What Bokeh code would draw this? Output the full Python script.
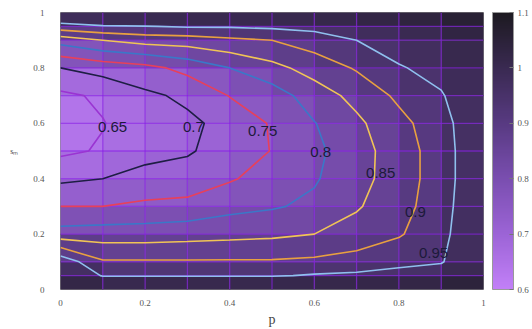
import numpy as np
from bokeh.plotting import figure
from bokeh.models import (LinearColorMapper, ColorBar, FixedTicker, CustomJSTickFormatter,
                          ColumnDataSource, Range1d)
from bokeh.core.properties import value
from bokeh.embed import file_html
from bokeh.resources import INLINE

# ---------------- data ----------------
p_vals = [0.0, 0.1, 0.2, 0.3, 0.4, 0.5, 0.6, 0.7, 0.8, 0.9, 1.0]
s_vals = [0.0, 0.05, 0.1, 0.2, 0.3, 0.4, 0.5, 0.6, 0.7, 0.8, 0.9, 0.95, 1.0]

# one column of values (over s_vals) for each p value
col_p00 = [1.05, 1.03, 0.985, 0.82, 0.75, 0.69, 0.64, 0.625, 0.64, 0.70, 0.82, 0.93, 1.02]
col_p01 = [1.06, 0.945, 0.905, 0.825, 0.75, 0.70, 0.655, 0.648, 0.658, 0.72, 0.85, 0.945, 1.04]
col_p02 = [1.07, 0.945, 0.905, 0.825, 0.76, 0.715, 0.685, 0.675, 0.69, 0.735, 0.87, 0.948, 1.05]
col_p03 = [1.07, 0.945, 0.905, 0.83, 0.765, 0.72, 0.695, 0.69, 0.71, 0.765, 0.875, 0.955, 1.05]
col_p04 = [1.07, 0.945, 0.905, 0.835, 0.785, 0.745, 0.72, 0.715, 0.752, 0.80, 0.89, 0.955, 1.05]
col_p05 = [1.07, 0.945, 0.905, 0.84, 0.795, 0.77, 0.752, 0.755, 0.775, 0.835, 0.90, 0.96, 1.05]
col_p06 = [1.07, 0.955, 0.91, 0.85, 0.81, 0.795, 0.788, 0.798, 0.825, 0.87, 0.925, 0.965, 1.05]
col_p07 = [1.07, 0.96, 0.92, 0.87, 0.845, 0.832, 0.83, 0.84, 0.865, 0.905, 0.95, 0.98, 1.06]
col_p08 = [1.07, 0.97, 0.935, 0.895, 0.88, 0.875, 0.875, 0.885, 0.91, 0.945, 0.98, 1.0, 1.06]
col_p09 = [1.07, 0.985, 0.945, 0.935, 0.93, 0.925, 0.925, 0.93, 0.945, 0.97, 1.0, 1.02, 1.07]
col_p10 = [1.08, 1.04, 1.02, 1.005, 1.0, 1.0, 1.0, 1.0, 1.005, 1.02, 1.04, 1.06, 1.08]

levels = [0.65, 0.7, 0.75, 0.8, 0.85, 0.9, 0.95]
level_labels = ["0.65", "0.7", "0.75", "0.8", "0.85", "0.9", "0.95"]
label_p = [0.123, 0.314, 0.478, 0.615, 0.757, 0.839, 0.882]
label_s = [0.585, 0.585, 0.574, 0.498, 0.419, 0.278, 0.13]

x_ticks = [0, 0.2, 0.4, 0.6, 0.8, 1.0]
y_ticks = [0, 0.2, 0.4, 0.6, 0.8, 1.0]
cb_ticks = [0.6, 0.7, 0.8, 0.9, 1.0, 1.1]
cb_low, cb_high = 0.6, 1.1

# ---------------- styling ----------------
line_colors = ["#9a34d2", "#1e1e44", "#e8405a", "#3a78c8", "#f0c456", "#e8a040", "#8fc0ee"]
anchors = [(0.0, (194, 128, 248)), (0.2, (156, 100, 214)), (0.4, (122, 78, 176)),
           (0.6, (88, 58, 130)), (0.8, (58, 42, 82)), (1.0, (29, 26, 33))]

def make_palette(n=256):
    out = []
    for i in range(n):
        t = i / (n - 1)
        for k in range(len(anchors) - 1):
            t0, c0 = anchors[k]
            t1, c1 = anchors[k + 1]
            if t0 <= t <= t1:
                f = (t - t0) / (t1 - t0)
                c = [int(round(c0[j] + f * (c1[j] - c0[j]))) for j in range(3)]
                out.append("#%02x%02x%02x" % tuple(c))
                break
    return out

palette = make_palette()
mapper = LinearColorMapper(palette=palette, low=cb_low, high=cb_high)

z = np.array([col_p00, col_p01, col_p02, col_p03, col_p04, col_p05,
              col_p06, col_p07, col_p08, col_p09, col_p10]).T  # shape (ns, np)
px = np.array(p_vals)
sy = np.array(s_vals)

# cells (pm3d-like: each quad coloured by the mean of its corners)
L, R, B, T, V = [], [], [], [], []
for i in range(len(sy) - 1):
    for j in range(len(px) - 1):
        L.append(px[j]); R.append(px[j + 1]); B.append(sy[i]); T.append(sy[i + 1])
        V.append(float(z[i:i + 2, j:j + 2].mean()))
cells = ColumnDataSource(dict(left=L, right=R, bottom=B, top=T, v=V))

p = figure(frame_width=423, frame_height=277, output_backend="svg", toolbar_location=None,
           x_range=Range1d(0, 1), y_range=Range1d(0, 1),
           min_border_left=60, min_border_right=49, min_border_top=12, min_border_bottom=40)
p.background_fill_color = "white"
p.border_fill_color = "white"
p.outline_line_color = "#888888"
p.grid.visible = False

p.quad(left="left", right="right", bottom="bottom", top="top", source=cells,
       fill_color={"field": "v", "transform": mapper}, line_color={"field": "v", "transform": mapper},
       line_width=0.5)

# mesh lines
p.segment(x0=px[1:-1], x1=px[1:-1], y0=[0] * (len(px) - 2), y1=[1] * (len(px) - 2),
          line_color="#8a22e6", line_alpha=0.65, line_width=1.3)
p.segment(x0=[0] * (len(sy) - 2), x1=[1] * (len(sy) - 2), y0=sy[1:-1], y1=sy[1:-1],
          line_color="#8a22e6", line_alpha=0.65, line_width=1.3)

p.contour(x=px, y=sy, z=z, levels=levels, line_color=line_colors, line_width=1.6)

p.text(x=label_p, y=label_s, text=level_labels, text_font=value("Liberation Sans"),
       text_font_size="15px", text_color="#1c1a3a", text_align="center",
       text_baseline="middle")

fmt = CustomJSTickFormatter(code="return String(Math.round(tick*10)/10);")
for ax, ticks in ((p.xaxis, x_ticks), (p.yaxis, y_ticks)):
    ax.ticker = FixedTicker(ticks=ticks)
    ax.formatter = fmt
    ax.axis_line_color = None
    ax.major_tick_line_color = None
    ax.minor_tick_line_color = None
    ax.major_label_text_font = "Liberation Serif"
    ax.major_label_text_font_size = "9px"
    ax.major_label_text_color = "#555555"
    ax.axis_label_text_font = "Liberation Serif"
    ax.axis_label_text_font_style = "normal"
    ax.axis_label_text_color = "#444444"

p.xaxis.axis_label = "p"
p.xaxis.axis_label_text_font_size = "14px"
p.xaxis.major_label_standoff = 4
p.xaxis.axis_label_standoff = 3
p.yaxis.axis_label = "sₘ"
p.yaxis.axis_label_text_font_size = "8px"
p.yaxis.major_label_standoff = 10
p.yaxis.axis_label_standoff = 12
p.yaxis.major_label_orientation = "horizontal"
p.yaxis.axis_label_orientation = "horizontal"

cb = ColorBar(color_mapper=mapper, width=21, padding=0, margin=0, label_standoff=4,
              location=(9, 0),
              ticker=FixedTicker(ticks=cb_ticks), formatter=fmt,
              major_label_text_font="Liberation Serif", major_label_text_font_size="9px",
              major_label_text_color="#555555", major_tick_line_color="#777777",
              major_tick_in=4, major_tick_out=0, bar_line_color="#999999",
              border_line_color=None, background_fill_color=None)
p.add_layout(cb, "right")

open("out.html", "w").write(file_html(p, INLINE))
